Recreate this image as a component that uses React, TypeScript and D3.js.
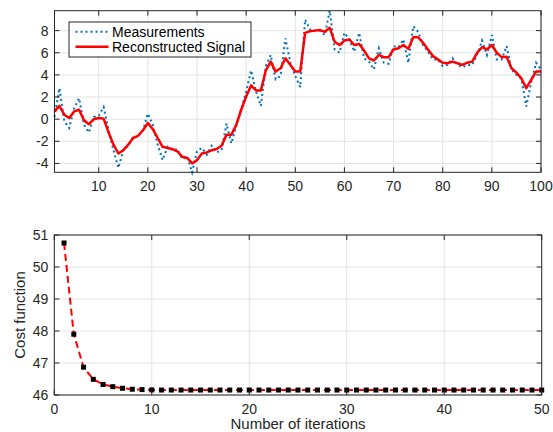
import React from 'react'
import * as d3 from 'd3'

// top panel: signal samples 1..100
const measurements = [
  0.2, 2.8, -0.2, -0.8, 1.0, 1.9, -0.5, -1.2, 0.2, 0.3,
  1.1, -1.0, -2.8, -4.4, -2.8, -2.4, -1.6, -1.6, -1.0, 0.5,
  -0.5, -2.3, -3.7, -2.5, -2.8, -2.7, -3.6, -3.4, -4.8, -2.9,
  -2.6, -3.2, -2.4, -3.0, -2.8, -0.4, -2.2, -0.6, 0.9, 2.5,
  4.4, 2.5, 1.2, 4.8, 5.8, 3.6, 3.9, 7.3, 5.1, 3.9,
  2.9, 9.0, 8.1, 8.0, 8.0, 7.6, 9.8, 6.3, 6.0, 7.8,
  7.2, 6.1, 7.8, 5.5, 5.2, 4.5, 6.4, 5.1, 5.0, 6.6,
  6.5, 7.2, 5.1, 8.4, 7.9, 6.7, 6.1, 5.4, 5.4, 4.8,
  4.9, 5.5, 4.9, 4.7, 4.9, 4.9, 5.8, 7.1, 5.8, 7.6,
  5.4, 5.4, 6.6, 4.5, 4.0, 3.65, 1.15, 3.3, 5.1, 4.5,
]
const reconstructed = [
  0.7, 1.2, 0.4, 0.1, 0.7, 0.85, -0.1, -0.45, 0.0, 0.1,
  0.05, -1.2, -2.3, -3.1, -2.8, -2.3, -1.7, -1.5, -1.0, -0.35,
  -0.9, -1.7, -2.5, -2.6, -2.7, -2.9, -3.4, -3.5, -4.0, -3.7,
  -3.1, -3.0, -2.8, -2.7, -2.4, -1.4, -1.4, -0.5, 0.85, 2.05,
  3.05, 2.6, 2.6, 4.4, 5.2, 4.3, 4.6, 5.5, 4.9, 4.3,
  4.3, 7.8, 7.95, 8.0, 8.05, 7.9, 8.25, 7.0, 6.7, 7.1,
  7.2, 6.7, 6.8, 6.2, 5.5, 5.3, 5.8, 5.6, 5.6, 6.3,
  6.4, 6.7, 6.35, 7.4, 7.4, 6.9, 6.3, 5.7, 5.4, 5.1,
  5.05, 5.2, 5.05, 4.9, 5.1, 5.2, 6.0, 6.5, 6.3, 6.7,
  6.0, 5.6, 5.65, 4.6, 4.2, 3.7, 2.8, 3.55, 4.3, 4.3,
]
const topXTicks = [10, 20, 30, 40, 50, 60, 70, 80, 90, 100]
const topYTicks = [-4, -2, 0, 2, 4, 6, 8]
const legendLabels = ['Measurements', 'Reconstructed Signal']

// bottom panel: cost per iteration
const cost = [
  50.75, 47.9, 46.87, 46.49, 46.33, 46.26, 46.21, 46.18, 46.17, 46.16,
  46.155, 46.155, 46.155, 46.155, 46.155, 46.155, 46.155, 46.155, 46.155, 46.155,
  46.155, 46.155, 46.155, 46.155, 46.155, 46.155, 46.155, 46.155, 46.155, 46.155,
  46.155, 46.155, 46.155, 46.155, 46.155, 46.155, 46.155, 46.155, 46.155, 46.155,
  46.155, 46.155, 46.155, 46.155, 46.155, 46.155, 46.155, 46.155, 46.155, 46.155,
]
const botXTicks = [0, 10, 20, 30, 40, 50]
const botYTicks = [46, 47, 48, 49, 50, 51]

const FONT = '"Liberation Sans", Arial, Helvetica, sans-serif'
const INK = '#262626'
const GRID = '#e3e3e3'

const Grid = ({ x, y, xTicks, yTicks }) => {
  const [x0, x1] = x.range()
  const [y0, y1] = y.range()
  return (
    <g>
      {xTicks.map((t) => (
        <line key={'gx' + t} x1={x(t)} x2={x(t)} y1={y0} y2={y1} stroke={GRID} strokeWidth={1} />
      ))}
      {yTicks.map((t) => (
        <line key={'gy' + t} x1={x0} x2={x1} y1={y(t)} y2={y(t)} stroke={GRID} strokeWidth={1} />
      ))}
    </g>
  )
}

const Axes = ({ x, y, xTicks, yTicks }) => {
  const [x0, x1] = x.range()
  const [y0, y1] = y.range()
  const tl = 5
  return (
    <g fontFamily={FONT} fontSize={14} fill={INK}>
      <rect x={x0} y={y1} width={x1 - x0} height={y0 - y1} fill="none" stroke={INK} strokeWidth={1} />
      {xTicks.map((t) => (
        <g key={'tx' + t}>
          <line x1={x(t)} x2={x(t)} y1={y0} y2={y0 - tl} stroke={INK} />
          <line x1={x(t)} x2={x(t)} y1={y1} y2={y1 + tl} stroke={INK} />
          <text x={x(t)} y={y0 + 18.5} textAnchor="middle">{t}</text>
        </g>
      ))}
      {yTicks.map((t) => (
        <g key={'ty' + t}>
          <line x1={x0} x2={x0 + tl} y1={y(t)} y2={y(t)} stroke={INK} />
          <line x1={x1} x2={x1 - tl} y1={y(t)} y2={y(t)} stroke={INK} />
          <text x={x0 - 6} y={y(t) + 5} textAnchor="end">{t}</text>
        </g>
      ))}
    </g>
  )
}

export default function App() {
  const idx = d3.range(1, 101)
  const xTop = d3.scaleLinear().domain([1, 100]).range([54.5, 541])
  const yTop = d3.scaleLinear().domain(d3.extent(measurements)).range([172.3, 10.7])

  const lineTop = (vals) =>
    d3.line().x((d, i) => xTop(idx[i])).y((d) => yTop(d))(vals)

  const xBot = d3.scaleLinear().domain([0, 50]).range([54.3, 541.7])
  const yBot = d3.scaleLinear().domain([46, 51]).range([395, 235])
  const costLine = d3.line().x((d, i) => xBot(i + 1)).y((d) => yBot(d))(cost)

  return (
    <svg width={553} height={432} style={{ position: 'absolute', left: 0, top: 0, background: '#fff' }}>
      <rect width={553} height={432} fill="#fff" />

      {/* top panel */}
      <Grid x={xTop} y={yTop} xTicks={topXTicks} yTicks={topYTicks} />
      <path d={lineTop(measurements)} fill="none" stroke="#0072BD" strokeWidth={2} strokeDasharray="2,3" />
      <path d={lineTop(reconstructed)} fill="none" stroke="#ff0000" strokeWidth={2.5} strokeLinejoin="round" />
      <Axes x={xTop} y={yTop} xTicks={topXTicks} yTicks={topYTicks} />

      <g fontFamily={FONT} fontSize={14} fill="#000">
        <rect x={69} y={22} width={182} height={35} fill="#fff" stroke={INK} strokeWidth={1} />
        <line x1={75.5} x2={108.5} y1={31.7} y2={31.7} stroke="#0072BD" strokeWidth={2} strokeDasharray="2,3" />
        <line x1={75.5} x2={108.5} y1={46.7} y2={46.7} stroke="#ff0000" strokeWidth={2.5} />
        <text x={112} y={36.5}>{legendLabels[0]}</text>
        <text x={112} y={51.5}>{legendLabels[1]}</text>
      </g>

      {/* bottom panel */}
      <Grid x={xBot} y={yBot} xTicks={botXTicks} yTicks={botYTicks} />
      <path d={costLine} fill="none" stroke="#ff0000" strokeWidth={2} strokeDasharray="7,4" />
      {cost.map((c, i) => (
        <rect key={i} x={xBot(i + 1) - 2.5} y={yBot(c) - 2.5} width={5} height={5} fill="#000" />
      ))}
      <Axes x={xBot} y={yBot} xTicks={botXTicks} yTicks={botYTicks} />

      <g fontFamily={FONT} fontSize={15} fill={INK}>
        <text x={298} y={429} textAnchor="middle">Number of iterations</text>
        <text transform={`translate(25,315) rotate(-90)`} textAnchor="middle">Cost function</text>
      </g>
    </svg>
  )
}
